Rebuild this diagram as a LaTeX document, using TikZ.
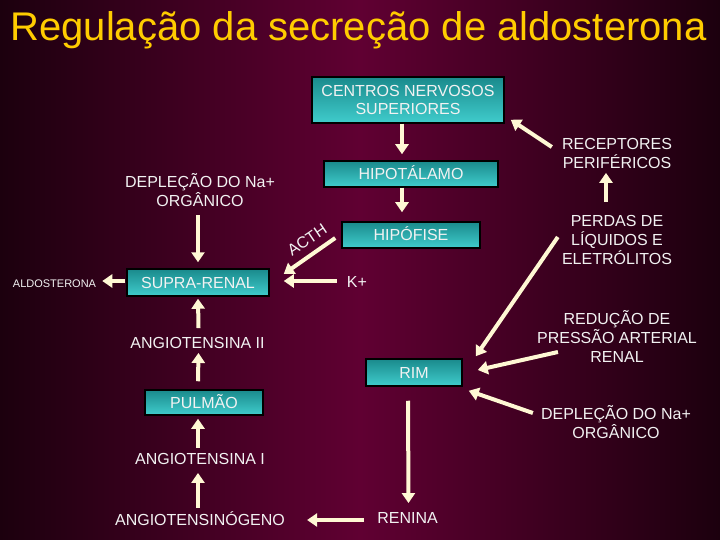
\documentclass[tikz,border=0pt]{standalone}
\usepackage{fontspec}
\setmainfont{Liberation Sans}
\usetikzlibrary{arrows.meta,calc}
\definecolor{bgdark}{RGB}{28,0,14}
\definecolor{bgmid}{RGB}{96,0,50}
\definecolor{cream}{RGB}{255,248,212}
\definecolor{gold}{RGB}{255,204,0}
\definecolor{tealtop}{RGB}{26,138,140}
\definecolor{tealbot}{RGB}{64,204,204}
\definecolor{txt}{RGB}{242,242,242}
\begin{document}
\begin{tikzpicture}[x=1pt,y=-1pt,
  box/.style={draw=black,line width=1.5pt,top color=tealtop,bottom color=tealbot,
    text=txt,font=\fontsize{16}{18}\selectfont,inner sep=0pt,align=center},
  one/.style={text height=11.5pt,text depth=0pt},
  lbl/.style={text=txt,font=\fontsize{16}{19}\selectfont,inner sep=0pt,align=center},
  arr/.style={draw=cream,line width=4pt,-{Triangle[length=10pt,width=13pt]}}]
\fill[left color=bgdark,right color=bgdark,middle color=bgmid] (0,0) rectangle (720,540);
\useasboundingbox (0,0) rectangle (720,540);
% title
\node[text=gold,font=\fontsize{40}{48}\selectfont,anchor=base,inner sep=0pt] (title) at (358.5,41) {Regulação da secreção de aldosterona};
% boxes
\node[box,minimum width=192pt,minimum height=46pt] (cns) at (408,100) {CENTROS NERVOSOS\\SUPERIORES};
\node[box,one,minimum width=174pt,minimum height=26pt] (hypo) at (411,174) {HIPOTÁLAMO};
\node[box,one,minimum width=138pt,minimum height=26pt] (hipo) at (411,235) {HIPÓFISE};
\node[box,one,minimum width=142pt,minimum height=27pt] (supra) at (198,282.5) {SUPRA-RENAL};
\node[box,one,minimum width=96pt,minimum height=27pt] (rim) at (414,372.5) {RIM};
\node[box,one,minimum width=118pt,minimum height=25pt] (pulmao) at (204,402.5) {PULMÃO};
% labels
\node[lbl,font=\fontsize{16}{16.5}\selectfont] (depL) at (200,190) {DEPLEÇÃO DO Na+\\ORGÂNICO};
\node[lbl,font=\fontsize{11}{13}\selectfont,text height=7.9pt,text depth=0pt] (aldo) at (54.5,284) {ALDOSTERONA};
\node[lbl,one] (angII) at (197.5,343) {ANGIOTENSINA II};
\node[lbl,one] (angI) at (200,459) {ANGIOTENSINA I};
\node[lbl,one] (angio) at (200,520) {ANGIOTENSINÓGENO};
\node[lbl,one] (renina) at (407.5,518) {RENINA};
\node[lbl,one] (kplus) at (357,282) {K+};
\node[lbl,rotate=34] (acth) at (307,240) {ACTH};
\node[lbl] (recep) at (617,153.5) {RECEPTORES\\PERIFÉRICOS};
\node[lbl] (perdas) at (617,240) {PERDAS DE\\LÍQUIDOS E\\ELETRÓLITOS};
\node[lbl] (reduc) at (617,336.5) {REDUÇÃO DE\\PRESSÃO ARTERIAL\\RENAL};
\node[lbl] (depR) at (616,422.5) {DEPLEÇÃO DO Na+\\ORGÂNICO};
% connectors
\draw[arr] ($(cns.south)+(-6,0)$) -- ($(hypo.north)+(-9,-6)$);
\draw[arr] ($(hypo.south)+(-9,0)$) -- ($(hipo.north)+(-9,-9)$);
\draw[arr] ($(hipo.west)+(-6,3)$) -- ($(supra.east)+(14,-8.5)$);
\draw[arr] ($(kplus.west)+(-10,-1)$) -- ($(supra.east)+(14,-1.5)$);
\draw[arr] ($(depL.south)+(-2,9)$) -- ($(supra.north)+(0,-6)$);
\draw[arr] ($(supra.west)+(-1,-1.5)$) -- ($(aldo.east)+(6,-3)$);
\draw[arr] ($(angII.north)+(1,-9)$) -- ($(supra.south)+(0,2)$);
\draw[arr] ($(pulmao.north)+(-6,-8)$) -- ($(angII.south)+(1,4)$);
\draw[arr] ($(angI.north)+(-2,-5)$) -- ($(pulmao.south)+(-6,3)$);
\draw[arr] ($(angio.north)+(-2,-6)$) -- ($(angI.south)+(-2,8)$);
\draw[arr] ($(rim.south)+(-6,14)$) -- ($(renina.north)+(1,-9)$);
\draw[arr] ($(renina.west)+(-13,2)$) -- ($(angio.east)+(22,0)$);
\draw[arr] ($(depR.west)+(-8,-9.5)$) -- ($(rim.south east)+(6,4)$);
\draw[arr] ($(reduc.west)+(21,15.5)$) -- ($(rim.east)+(15,-2.5)$);
\draw[arr] ($(perdas.west)+(-4,-3)$) -- ($(rim.north east)+(13,-2)$);
\draw[arr] ($(perdas.north)+(-11,-13)$) -- ($(recep.south)+(-11,4)$);
\draw[arr] ($(recep.west)+(-10,-6.5)$) -- ($(cns.south east)+(6,-4)$);
\end{tikzpicture}
\end{document}
